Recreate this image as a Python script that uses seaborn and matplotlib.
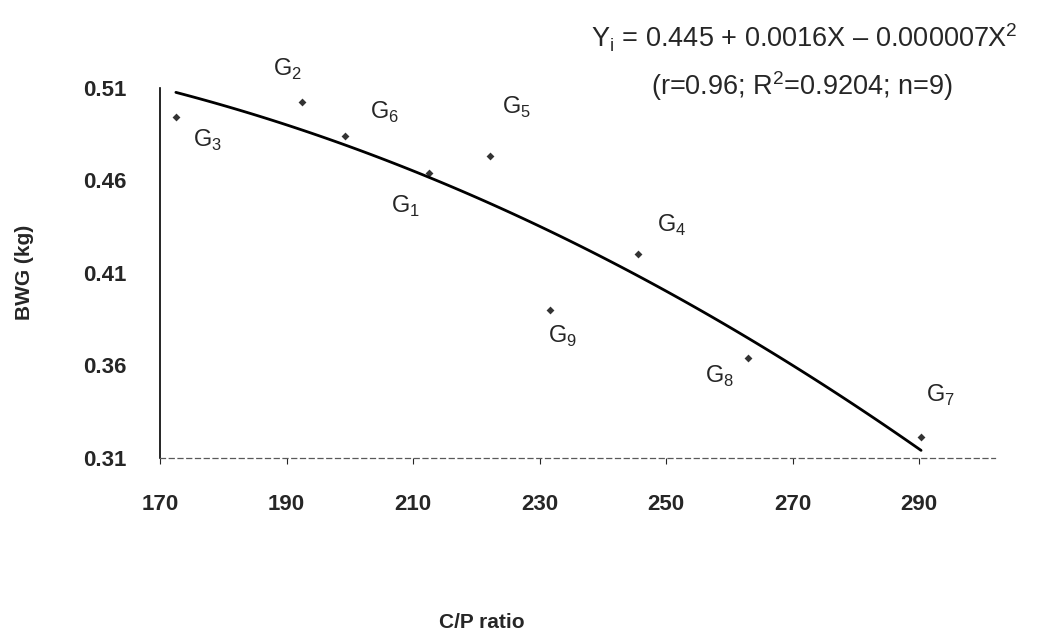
import numpy as np
import pandas as pd
import seaborn as sns
import matplotlib.pyplot as plt

# data
groups = ['G1', 'G2', 'G3', 'G4', 'G5', 'G6', 'G7', 'G8', 'G9']
cp_ratio = [212.5, 192.5, 172.5, 245.6, 222.2, 199.2, 290.3, 262.9, 231.6]
bwg = [0.464, 0.502, 0.494, 0.420, 0.473, 0.484, 0.321, 0.364, 0.390]

x_ticks = [170, 190, 210, 230, 250, 270, 290]
y_ticks = [0.31, 0.36, 0.41, 0.46, 0.51]

# label offsets (points) from each marker
label_offsets = {
    'G1': (-17, -24), 'G2': (-11, 24), 'G3': (23, -17), 'G4': (24, 21),
    'G5': (19, 35), 'G6': (29, 17), 'G7': (14, 30), 'G8': (-20, -13),
    'G9': (9, -19),
}

df = pd.DataFrame({'group': groups, 'cp': cp_ratio, 'bwg': bwg})

sns.set_style('white')
plt.rcParams['font.family'] = ['Liberation Sans', 'DejaVu Sans']
plt.rcParams['mathtext.fontset'] = 'custom'
plt.rcParams['mathtext.rm'] = 'Liberation Sans'

fig = plt.figure(figsize=(10.53, 6.35), dpi=100)
ax = fig.add_axes([0.152, 0.279, 0.793, 0.583])

sns.regplot(data=df, x='cp', y='bwg', order=2, ci=None, ax=ax,
            marker='D', color='black',
            scatter_kws={'s': 16, 'linewidths': 0},
            line_kws={'lw': 2})

for g, x, y in zip(groups, cp_ratio, bwg):
    dx, dy = label_offsets[g]
    ax.annotate(r'G$_\mathregular{%s}$' % g[1:], (x, y), xytext=(dx, dy),
                textcoords='offset points', ha='center', va='center',
                fontsize=17)

ax.set_xlim(170, 302)
ax.set_ylim(0.31, 0.51)
ax.set_xticks(x_ticks)
ax.set_yticks(y_ticks)
ax.set_xticklabels([str(t) for t in x_ticks], fontsize=16, fontweight='bold')
ax.set_yticklabels(['%.2f' % t for t in y_ticks], fontsize=16, fontweight='bold')
ax.tick_params(axis='x', direction='out', length=4, width=0.8, pad=22, bottom=True)
ax.tick_params(axis='y', direction='out', length=0, pad=24, left=True)

for side in ['top', 'right']:
    ax.spines[side].set_visible(False)
ax.spines['left'].set_color('black')
ax.spines['left'].set_linewidth(1.2)
ax.spines['bottom'].set_color('0.35')
ax.spines['bottom'].set_linewidth(0.9)
ax.spines['bottom'].set_linestyle((0, (4, 3)))

ax.set_xlabel('')
ax.set_ylabel('')
fig.text(482 / 1053, 1 - 622 / 635, 'C/P ratio', ha='center', va='center',
         fontsize=15, fontweight='bold')
fig.text(25 / 1053, 1 - 272 / 635, 'BWG (kg)', ha='center', va='center',
         rotation=90, fontsize=15, fontweight='bold')

fig.text(804 / 1053, 1 - 38 / 635,
         r'Y$_\mathregular{i}$ = 0.445 + 0.0016X – 0.000007X$^\mathregular{2}$',
         ha='center', va='center', fontsize=19.5)
fig.text(802 / 1053, 1 - 86 / 635,
         r'(r=0.96; R$^\mathregular{2}$=0.9204; n=9)',
         ha='center', va='center', fontsize=19.5)

fig.savefig('out.png', dpi=100, facecolor='white')
